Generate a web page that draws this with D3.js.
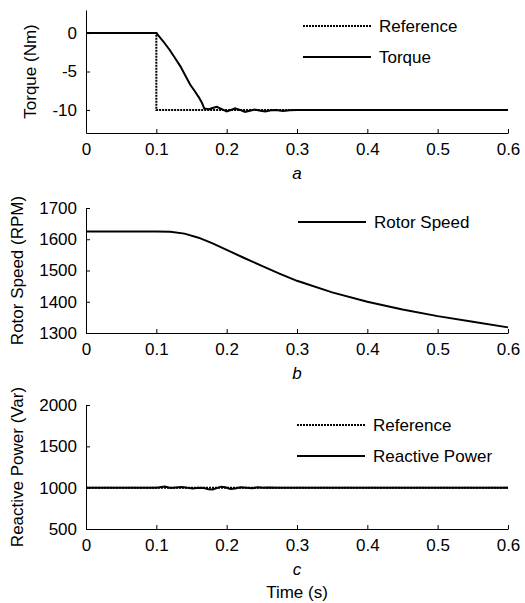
<!DOCTYPE html>
<html>
<head>
<meta charset="utf-8">
<script src="https://cdn.jsdelivr.net/npm/d3@7"></script>
<style>
  body { margin: 0; background: #fff; }
  svg { font-family: Arial, "Liberation Sans", sans-serif; }
  .axis path, .axis line { stroke: #000; stroke-width: 1; }
  .axis text { font-size: 17px; fill: #000; font-family: Arial, "Liberation Sans", sans-serif; }
</style>
</head>
<body>
<svg id="chart" width="525" height="603"></svg>
<script>
// time axis ticks shared by all panels
var timeTicks = [0, 0.1, 0.2, 0.3, 0.4, 0.5, 0.6]

// panel a: torque
var torqueTime = [0, 0.1, 0.101, 0.11, 0.119, 0.127, 0.134, 0.141, 0.148, 0.155, 0.16, 0.165, 0.168, 0.175, 0.18, 0.186, 0.193, 0.2, 0.206, 0.212, 0.219, 0.226, 0.233, 0.24, 0.248, 0.255, 0.263, 0.27, 0.28, 0.29, 0.3, 0.6]
var torqueValues = [0, 0, -0.1, -1.1, -2.2, -3.3, -4.3, -5.5, -6.7, -7.6, -8.3, -9.1, -9.8, -9.9, -9.75, -9.6, -9.9, -10.2, -10.0, -9.8, -10.0, -10.25, -10.1, -9.95, -10.1, -10.2, -10.05, -10.0, -10.15, -10.05, -10.0, -10.0]
var torqueRefTime = [0, 0.1, 0.1, 0.6]
var torqueRefValues = [0, 0, -10, -10]
var torqueTicks = [0, -5, -10]

// panel b: rotor speed
var speedTime = [0, 0.1, 0.12, 0.14, 0.16, 0.18, 0.2, 0.225, 0.25, 0.275, 0.3, 0.35, 0.4, 0.45, 0.5, 0.55, 0.6]
var speedValues = [1625, 1625, 1624, 1618, 1605, 1587, 1566, 1540, 1515, 1490, 1467, 1430, 1400, 1375, 1354, 1336, 1318]
var speedTicks = [1300, 1400, 1500, 1600, 1700]

// panel c: reactive power
var powerTime = [0, 0.1, 0.105, 0.112, 0.12, 0.128, 0.136, 0.144, 0.152, 0.16, 0.168, 0.174, 0.18, 0.186, 0.192, 0.198, 0.205, 0.212, 0.22, 0.228, 0.236, 0.244, 0.252, 0.26, 0.27, 0.6]
var powerValues = [1000, 1000, 1005, 1014, 996, 1003, 1008, 998, 990, 1000, 996, 982, 978, 995, 1012, 1004, 984, 990, 1006, 1000, 992, 1004, 998, 1003, 1000, 1000]
var powerRefTime = [0, 0.6]
var powerRefValues = [1000, 1000]
var powerTicks = [500, 1000, 1500, 2000]

var svg = d3.select('#chart')
var left = 86
var right = 508
var fontSize = 17

var x = d3.scaleLinear().domain([0, 0.6]).range([left, right])

function drawPanel (opts) {
  var y = d3.scaleLinear().domain(opts.yDomain).range([opts.bottom, opts.top])
  var g = svg.append('g')

  g.append('g')
    .attr('class', 'axis')
    .attr('transform', 'translate(0,' + opts.bottom + ')')
    .call(d3.axisBottom(x).tickValues(timeTicks).tickSizeInner(-4).tickSizeOuter(0).tickPadding(10)
      .tickFormat(function (t) { return t === 0 ? '0' : d3.format('.1f')(t) }))

  g.append('g')
    .attr('class', 'axis')
    .attr('transform', 'translate(' + left + ',0)')
    .call(d3.axisLeft(y).tickValues(opts.yTicks).tickSizeInner(-4).tickSizeOuter(0).tickPadding(9)
      .tickFormat(function (t) { return String(t) }))

  var line = d3.line()
    .x(function (d) { return x(d[0]) })
    .y(function (d) { return y(d[1]) })

  opts.series.forEach(function (s) {
    g.append('path')
      .datum(d3.zip(s.t, s.v))
      .attr('fill', 'none')
      .attr('stroke', '#000')
      .attr('stroke-width', 2)
      .attr('stroke-dasharray', s.dotted ? '2,1' : null)
      .attr('d', line)
  })

  // legend
  opts.series.slice().reverse().forEach(function (s, i) {
    var ly = opts.legendY + i * 31
    g.append('line')
      .attr('x1', opts.legendX).attr('x2', opts.legendX + 68)
      .attr('y1', ly).attr('y2', ly)
      .attr('stroke', '#000')
      .attr('stroke-width', 2)
      .attr('stroke-dasharray', s.dotted ? '2,1' : null)
    g.append('text')
      .attr('x', opts.legendX + 76).attr('y', ly)
      .attr('dy', '0.35em')
      .attr('font-size', fontSize)
      .text(s.name)
  })

  g.append('text')
    .attr('transform', 'translate(' + opts.labelX + ',' + ((opts.top + opts.bottom) / 2) + ') rotate(-90)')
    .attr('text-anchor', 'middle')
    .attr('font-size', fontSize)
    .text(opts.yLabel)

  g.append('text')
    .attr('x', (left + right) / 2)
    .attr('y', opts.bottom + 46)
    .attr('text-anchor', 'middle')
    .attr('font-size', fontSize)
    .attr('font-style', 'italic')
    .text(opts.letter)

  return y
}

drawPanel({
  top: 10, bottom: 133, yDomain: [-13, 3], yTicks: torqueTicks,
  yLabel: 'Torque (Nm)', labelX: 36, letter: 'a',
  legendX: 303, legendY: 26,
  series: [
    { name: 'Torque', t: torqueTime, v: torqueValues, dotted: false },
    { name: 'Reference', t: torqueRefTime, v: torqueRefValues, dotted: true }
  ]
})

drawPanel({
  top: 208, bottom: 333, yDomain: [1300, 1700], yTicks: speedTicks,
  yLabel: 'Rotor Speed (RPM)', labelX: 23, letter: 'b',
  legendX: 298, legendY: 222,
  series: [
    { name: 'Rotor Speed', t: speedTime, v: speedValues, dotted: false }
  ]
})

drawPanel({
  top: 405, bottom: 529, yDomain: [500, 2000], yTicks: powerTicks,
  yLabel: 'Reactive Power (Var)', labelX: 23, letter: 'c',
  legendX: 297, legendY: 425,
  series: [
    { name: 'Reactive Power', t: powerTime, v: powerValues, dotted: false },
    { name: 'Reference', t: powerRefTime, v: powerRefValues, dotted: true }
  ]
})

svg.append('text')
  .attr('x', (left + right) / 2)
  .attr('y', 598)
  .attr('text-anchor', 'middle')
  .attr('font-size', fontSize)
  .text('Time (s)')
</script>
</body>
</html>
